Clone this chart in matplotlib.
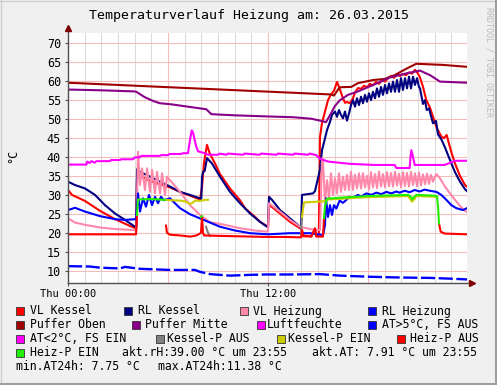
import matplotlib
matplotlib.use("Agg")
from matplotlib import pyplot as plt
from matplotlib.patches import Rectangle
from matplotlib.lines import Line2D

plt.rcParams['font.family'] = ['DejaVu Sans Mono']

NaN = float("nan")
W, H = 497, 385

# hours since Thu 00:00
vl_kessel_t = [0, 0.24, 1.02, 1.92, 2.82, 3.72, 4.08, 4.14, 4.4, 5.0,
               5.5, 6.12, 6.72, 7.32, 7.92, 8.04, 8.16, 8.34, 8.5, 8.82,
               9.12, 9.72, 10.32, 10.62, 11.22, 11.52, 12.0, 12.06, 12.24, 12.72,
               13.32, 13.92, 14.04, 14.1, 14.6, 14.82, 14.9, 15.05, 15.12, 15.24,
               15.42, 15.6, 15.78, 15.96, 16.14, 16.26, 16.38, 16.5, 16.62, 16.74,
               16.92, 17.1, 17.22, 17.4, 17.58, 17.76, 17.94, 18.12, 18.3, 18.48,
               18.66, 18.84, 19.02, 19.2, 19.38, 19.56, 19.74, 19.92, 20.1, 20.28,
               20.46, 20.64, 20.82, 21.0, 21.12, 21.3, 21.5, 21.72, 21.9, 22.14,
               22.42, 22.56, 22.72, 22.86, 23.02, 23.22, 23.52, 23.82, 23.94]
vl_kessel = [31.3, 30.0, 28.4, 25.8, 23.6, 21.8, 21.2, 34.5, 34.8, 33.6,
             32.8, 32.0, 30.8, 29.8, 28.8, 32.0, 38.5, 43.2, 41.0, 38.3,
             35.5, 31.7, 28.6, 26.5, 24.2, 22.9, 21.6, 27.3, 26.8, 25.1,
             22.9, 21.2, 20.8, 19.3, 19.1, 21.0, 19.2, 19.5, 45.3, 49.0,
             52.0, 55.0, 56.5, 57.5, 59.8, 58.5, 57.0, 55.5, 54.3, 54.5,
             54.2, 55.5, 57.0, 58.2, 58.0, 58.8, 58.4, 59.3, 58.9, 59.8,
             59.3, 60.3, 59.9, 60.8, 61.4, 60.9, 61.8, 61.4, 61.9, 61.6,
             62.3, 62.0, 63.0, 62.0, 61.0, 58.5, 55.0, 53.0, 50.6, 47.5,
             45.3, 45.0, 45.8, 43.5, 41.0, 38.3, 35.0, 32.6, 32.2]

rl_kessel_t = [0, 0.42, 1.02, 1.62, 2.22, 2.82, 3.42, 4.02, 4.1, 4.14,
               4.32, 4.92, 5.52, 6.12, 6.72, 7.32, 7.92, 8.0, 8.04, 8.1,
               8.2, 8.34, 8.64, 9.12, 9.72, 10.32, 10.92, 11.52, 11.94, 12.0,
               12.06, 12.24, 12.72, 13.32, 13.92, 13.98, 14.04, 14.7, 14.82, 14.95,
               15.12, 15.24, 15.42, 15.54, 15.72, 15.84, 16.02, 16.14, 16.26, 16.38,
               16.5, 16.62, 16.74, 16.86, 16.98, 17.1, 17.22, 17.34, 17.46, 17.58,
               17.7, 17.82, 17.94, 18.06, 18.18, 18.3, 18.42, 18.54, 18.66, 18.78,
               18.9, 19.02, 19.14, 19.26, 19.38, 19.5, 19.62, 19.74, 19.86, 19.98,
               20.1, 20.22, 20.34, 20.46, 20.58, 20.7, 20.82, 20.94, 21.06, 21.12,
               21.3, 21.42, 21.52, 21.66, 21.9, 22.08, 22.2, 22.42, 22.62, 22.92,
               23.22, 23.52, 23.82, 23.94]
rl_kessel = [33.5, 32.6, 31.7, 30.0, 27.3, 25.1, 23.4, 21.6, 21.5, 36.8,
             36.1, 34.8, 33.5, 32.2, 30.8, 30.0, 29.1, 29.0, 34.8, 36.0,
             36.3, 39.7, 38.3, 34.8, 30.8, 27.8, 25.1, 22.9, 21.6, 21.5,
             29.5, 28.7, 26.0, 23.8, 21.6, 21.4, 30.0, 30.4, 31.0, 33.5,
             36.6, 41.8, 44.9, 47.1, 49.3, 51.1, 52.0, 50.6, 52.4, 51.1,
             50.2, 52.0, 49.6, 51.5, 53.7, 55.0, 53.3, 55.5, 53.7, 55.9,
             54.2, 56.4, 54.6, 56.8, 55.0, 57.2, 55.5, 58.1, 55.9, 58.5,
             56.4, 59.0, 56.8, 59.4, 57.2, 59.9, 57.2, 60.3, 57.2, 60.8,
             57.7, 60.8, 58.1, 61.2, 58.1, 61.2, 59.0, 60.8, 58.5, 58.1,
             54.0, 55.0, 52.4, 52.8, 48.9, 49.5, 46.0, 44.5, 42.5, 39.2,
             36.0, 33.5, 31.5, 31.0]

vl_heizung_t = [0, 0.42, 1.02, 1.92, 2.82, 4.02, 4.1, 4.2, 4.32, 4.44,
                4.62, 4.74, 4.92, 5.04, 5.22, 5.34, 5.52, 5.64, 5.82, 5.94,
                6.12, 6.72, 7.32, 7.92, 8.52, 9.42, 10.32, 11.22, 11.94, 12.0,
                12.06, 12.72, 13.32, 13.92, 14.52, 15.12, 15.24, 15.3, 15.42, 15.54,
                15.66, 15.78, 15.9, 16.02, 16.14, 16.26, 16.38, 16.5, 16.62, 16.74,
                16.86, 16.98, 17.1, 17.22, 17.34, 17.46, 17.58, 17.7, 17.82, 17.94,
                18.06, 18.18, 18.3, 18.42, 18.54, 18.66, 18.78, 18.9, 19.02, 19.14,
                19.26, 19.38, 19.5, 19.62, 19.74, 19.86, 19.98, 20.1, 20.22, 20.34,
                20.46, 20.58, 20.7, 20.82, 20.94, 21.06, 21.18, 21.3, 21.42, 21.54,
                21.66, 21.78, 21.9, 22.1, 22.3, 22.62, 22.92, 23.22, 23.52, 23.82,
                23.94]
vl_heizung = [23.8, 22.7, 22.1, 21.4, 21.0, 20.7, 20.7, 41.4, 32.6, 37.0,
              31.3, 37.0, 30.8, 36.6, 30.4, 36.1, 30.4, 35.7, 30.0, 34.8,
              33.9, 30.8, 27.3, 24.7, 22.8, 22.1, 21.2, 20.6, 20.3, 20.3,
              27.8, 25.6, 23.4, 21.6, 21.0, 20.7, 39.7, 39.2, 27.8, 33.9,
              29.1, 35.7, 30.0, 34.4, 30.4, 35.7, 30.8, 34.8, 31.3, 35.3,
              31.3, 36.1, 31.3, 35.3, 31.7, 35.7, 31.7, 35.7, 32.0, 35.0,
              31.5, 36.0, 32.0, 35.5, 31.8, 36.2, 32.2, 35.5, 32.0, 36.0,
              32.3, 35.8, 32.2, 36.1, 32.5, 35.6, 32.0, 36.0, 32.4, 35.8,
              32.2, 36.1, 32.6, 35.7, 32.3, 35.9, 32.5, 35.4, 32.8, 35.6,
              32.9, 35.3, 33.5, 35.5, 34.5, 32.2, 30.4, 28.7, 27.1, 25.8,
              25.5]

rl_heizung_t = [0, 0.42, 1.02, 1.92, 2.82, 3.42, 4.08, 4.2, 4.32, 4.5,
                4.68, 4.86, 5.04, 5.22, 5.4, 5.58, 5.76, 6.12, 6.72, 7.32,
                7.92, 8.52, 9.12, 10.02, 10.92, 12.0, 13.32, 14.52, 15.3, 15.42,
                15.48, 15.6, 15.72, 15.84, 15.96, 16.1, 16.3, 16.5, 16.9, 17.1,
                17.4, 17.6, 17.9, 18.2, 18.5, 18.8, 19.1, 19.4, 19.7, 19.9,
                20.2, 20.5, 20.8, 21.1, 21.4, 21.7, 22.1, 22.4, 22.7, 23.0,
                23.3, 23.7, 23.94]
rl_heizung = [26.0, 26.6, 25.6, 24.4, 23.6, 23.4, 23.6, 30.4, 25.6, 29.1,
              26.9, 30.0, 27.3, 29.5, 27.8, 29.5, 28.6, 29.1, 26.5, 24.9,
              23.8, 22.7, 21.6, 20.6, 19.9, 19.6, 19.9, 19.9, 19.4, 22.0,
              29.1, 24.2, 27.3, 24.7, 27.3, 26.4, 28.5, 27.9, 29.5, 29.3,
              30.0, 29.6, 30.4, 30.0, 30.6, 30.2, 30.8, 30.4, 30.9, 30.6,
              31.1, 30.7, 31.3, 30.9, 31.4, 31.1, 30.8, 30.0, 28.7, 27.3,
              26.5, 26.0, 26.5]

puffer_oben_t = [0, 15.8, 15.95, 16.3, 17.0, 17.4, 18.3, 19.0, 19.6, 20.3, 20.9, 22.5, 23.94]
puffer_oben = [59.6, 56.5, 56.2, 58.4, 58.5, 59.5, 60.3, 60.6, 61.6, 63.3, 64.6, 64.3, 63.8]

puffer_mitte_t = [0, 2.0, 4.0, 4.1, 4.6, 5.1, 5.5, 6.2, 7.0, 8.3,
                  8.6, 10.0, 12.0, 13.5, 14.6, 15.12, 15.48, 15.78, 16.02, 16.32,
                  16.8, 17.34, 18.3, 19.32, 20.34, 21.12, 21.72, 22.32, 23.94]
puffer_mitte = [57.8, 57.6, 57.3, 57.2, 55.8, 54.8, 54.2, 53.9, 53.4, 52.6,
                51.3, 51.0, 50.7, 50.5, 50.1, 49.6, 49.2, 51.5, 53.5, 55.0,
                56.4, 57.2, 59.0, 61.0, 62.1, 62.8, 61.6, 59.9, 59.6]

luftfeuchte_t = [0, 1.1, 1.15, 1.3, 1.4, 1.6, 1.7, 2.5, 2.6, 3.1,
                 3.2, 3.9, 4.0, 4.3, 4.4, 5.5, 5.6, 6.0, 6.1, 6.8,
                 6.9, 7.2, 7.3, 7.42, 7.5, 7.6, 7.7, 7.8, 8.2, 8.4,
                 9.0, 9.1, 9.5, 9.6, 10.5, 10.6, 11.5, 11.6, 12.5, 12.6,
                 13.5, 13.6, 14.4, 14.5, 14.9, 15.1, 15.6, 16.9, 18.4, 19.6,
                 19.7, 20.5, 20.55, 20.6, 20.7, 20.8, 22.6, 23.0, 23.2, 23.94]
luftfeuchte = [38.0, 38.0, 38.8, 38.4, 38.9, 38.5, 38.9, 38.9, 39.2, 39.2,
               39.4, 39.4, 39.9, 39.9, 40.3, 40.3, 40.5, 40.5, 40.8, 40.8,
               41.0, 41.0, 44.0, 47.0, 46.5, 44.5, 42.7, 41.5, 41.0, 40.6,
               40.6, 40.9, 40.6, 40.9, 40.6, 40.9, 40.6, 40.9, 40.6, 40.9,
               40.6, 40.9, 40.6, 40.9, 40.5, 39.6, 38.8, 38.2, 37.9, 37.9,
               37.1, 37.1, 40.0, 41.8, 40.0, 37.9, 37.9, 38.6, 39.0, 39.0]

at_aus_t = [0, 1.32, 1.92, 3.12, 3.42, 4.32, 6.12, 7.62, 7.92, 8.52,
            9.72, 10.92, 11.82, 13.32, 15.12, 16.32, 18.12, 19.92, 21.72, 22.92, 23.94]
at_aus = [11.2, 11.1, 10.8, 10.6, 11.0, 10.5, 10.2, 10.2, 9.7, 9.1,
          8.7, 8.9, 9.0, 9.0, 9.1, 8.7, 8.4, 8.2, 8.1, 7.9, 7.7]

kessel_p_aus_t = [8.28, 8.4, 8.52, 8.52, 13.98, 14.04]
kessel_p_aus = [21.6, 20.0, 19.2, NaN, 19.8, 24.2]

kessel_p_ein_t = [5.82, 6.12, 6.72, 7.02, 7.32, 7.5, 7.62, 7.92, 8.22, 8.4,
                  8.4, 14.04, 14.16, 14.5, 15.3, 15.42, 15.6, 18.0, 20.4, 20.58,
                  20.64, 20.8, 20.9, 22.14]
kessel_p_ein = [28.7, 28.6, 28.5, 28.3, 27.6, 28.0, 28.5, 28.4, 28.7, 28.7,
                NaN, 24.2, 28.0, 28.1, 28.3, 28.5, 28.8, 29.4, 29.7, 28.6,
                28.2, 29.0, 29.7, 29.5]

heiz_p_aus_t = [0, 4.08, 4.14, 4.14, 5.88, 5.94, 6.12, 6.72, 7.32, 7.62,
                7.8, 7.98, 8.04, 8.1, 8.16, 9.0, 10.0, 11.0, 12.0, 13.0,
                13.98, 14.04, 14.1, 14.6, 14.82, 14.9, 15.3, 15.36, 15.36, 22.26,
                22.36, 22.6, 23.94]
heiz_p_aus = [19.6, 19.6, 24.7, NaN, 21.9, 20.0, 19.5, 19.3, 19.0, 19.2,
              19.5, 20.0, 24.2, 20.0, 19.3, 19.2, 19.1, 19.0, 18.9, 18.9,
              18.8, 20.7, 19.1, 19.0, 21.2, 19.0, 19.0, 23.9, NaN, 22.5,
              20.3, 19.8, 19.6]

heiz_p_ein_t = [4.14, 4.2, 5.0, 5.82, 5.82, 7.98, 8.04, 8.04, 15.36, 15.42,
                15.54, 16.5, 18.0, 20.4, 20.58, 20.64, 20.76, 20.9, 22.0, 22.14,
                22.2, 22.26]
heiz_p_ein = [24.7, 28.8, 28.9, 28.7, NaN, 24.2, 24.4, NaN, 23.9, 27.0,
              29.0, 29.3, 29.7, 30.0, 29.5, 28.8, 29.4, 30.0, 29.8, 29.6,
              27.0, 22.5]

y_ticks = list(range(10, 71, 5))
x_ticks = [0, 12]
x_tick_labels = ["Thu 00:00", "Thu 12:00"]

colors = {
    "VL Kessel": "#FF0000", "RL Kessel": "#000080", "VL Heizung": "#FF88AA",
    "RL Heizung": "#0000FF", "Puffer Oben": "#A00000", "Puffer Mitte": "#880088",
    "Luftfeuchte": "#FF00FF", "AT>5°C, FS AUS": "#0000FF", "AT<2°C, FS EIN": "#FF00FF",
    "Kessel-P AUS": "#808080", "Kessel-P EIN": "#CCCC00", "Heiz-P AUS": "#FF0000",
    "Heiz-P EIN": "#22EE00",
}

GRID = "#DCDCDC"
MGRID = "#F3BDBD"
AXIS = "#505050"
ARROW = "#7F0000"


def fx(x):
    return x / W


def fy(y):
    return 1 - y / H


fig = plt.figure(figsize=(W / 100, H / 100), dpi=100)
fig.patch.set_facecolor("#F0F0F0")
ax = fig.add_axes([fx(68), fy(283), 399 / W, 250 / H])
ax.set_facecolor("white")
ax.set_xlim(0, 23.94)
ax.set_ylim(6.755, 72.72)

for h in range(1, 24):
    ax.axvline(h, color=MGRID if h % 6 == 0 else GRID, lw=0.8, zorder=0)
for v in y_ticks:
    ax.axhline(v, color=MGRID, lw=0.8, zorder=0)

lw = 1.5
series = [
    (vl_kessel_t, vl_kessel, "VL Kessel"),
    (rl_kessel_t, rl_kessel, "RL Kessel"),
    (vl_heizung_t, vl_heizung, "VL Heizung"),
    (rl_heizung_t, rl_heizung, "RL Heizung"),
    (puffer_oben_t, puffer_oben, "Puffer Oben"),
    (puffer_mitte_t, puffer_mitte, "Puffer Mitte"),
    (luftfeuchte_t, luftfeuchte, "Luftfeuchte"),
]
for t, v, name in series:
    ax.plot(t, v, color=colors[name], lw=lw, zorder=3)
ax.plot(at_aus_t, at_aus, color=colors["AT>5°C, FS AUS"], lw=1.7,
        linestyle=(0, (6, 1.5)), zorder=3)
ax.plot(kessel_p_aus_t, kessel_p_aus, color=colors["Kessel-P AUS"], lw=lw, zorder=3)
ax.plot(kessel_p_ein_t, kessel_p_ein, color=colors["Kessel-P EIN"], lw=lw, zorder=3)
ax.plot(heiz_p_aus_t, heiz_p_aus, color=colors["Heiz-P AUS"], lw=lw, zorder=3)
ax.plot(heiz_p_ein_t, heiz_p_ein, color=colors["Heiz-P EIN"], lw=lw, zorder=3)

for s in ax.spines.values():
    s.set_visible(False)

# axes with arrows
ax.plot([0, 0], [6.755, 73.6], color=AXIS, lw=1, clip_on=False, zorder=4)
ax.plot([0], [74.0], marker="^", ms=4.5, color=ARROW, clip_on=False, zorder=5)
ax.plot([0, 24.1], [6.755, 6.755], color=AXIS, lw=1, clip_on=False, zorder=4)
ax.plot([24.25], [6.755], marker=">", ms=4.5, color=ARROW, clip_on=False, zorder=5)

ax.set_yticks(y_ticks)
ax.set_yticklabels([str(v) for v in y_ticks])
ax.set_xticks(x_ticks)
ax.set_xticklabels(x_tick_labels)
ax.tick_params(axis="y", length=2, color=AXIS, pad=3, labelsize=8.5)
ax.tick_params(axis="x", length=2, color=AXIS, pad=2.5, labelsize=7.5)

fig.text(fx(249), fy(16), "Temperaturverlauf Heizung am: 26.03.2015",
         ha="center", va="center", fontsize=9.5)
fig.text(fx(13), fy(156), "°C", rotation=90, ha="center", va="center", fontsize=8.5)
fig.text(fx(489), fy(7), "RRDTOOL / TOBI OETIKER", rotation=270,
         ha="center", va="top", fontsize=6, color="#BBBBBB")

legend_rows = [
    (311, [("VL Kessel", 16, 30), ("RL Kessel", 124, 138),
           ("VL Heizung", 240, 253), ("RL Heizung", 368, 382)]),
    (325, [("Puffer Oben", 16, 30), ("Puffer Mitte", 132, 145),
           ("Luftfeuchte", 257, 267), ("AT>5°C, FS AUS", 368, 382)]),
    (339, [("AT<2°C, FS EIN", 16, 30), ("Kessel-P AUS", 156, 167),
           ("Kessel-P EIN", 277, 288), ("Heiz-P AUS", 397, 410)]),
    (353, [("Heiz-P EIN", 16, 30)]),
]
for y, entries in legend_rows:
    for name, sx, tx in entries:
        fig.add_artist(Rectangle((fx(sx), fy(y + 4)), 8 / W, 8 / H,
                                 transform=fig.transFigure, facecolor=colors[name],
                                 edgecolor="#333333", lw=0.6))
        fig.text(fx(tx), fy(y), name, ha="left", va="center", fontsize=8.3)

fig.text(fx(122), fy(353), "akt.rH:39.00 °C um 23:55", ha="left", va="center", fontsize=8.3)
fig.text(fx(312), fy(353), "akt.AT: 7.91 °C um 23:55", ha="left", va="center", fontsize=8.3)
fig.text(fx(16), fy(367), "min.AT24h: 7.75 °C", ha="left", va="center", fontsize=8.3)
fig.text(fx(158), fy(367), "max.AT24h:11.38 °C", ha="left", va="center", fontsize=8.3)

# image frame shading
fig.add_artist(Line2D([0, 1], [fy(0.5), fy(0.5)], transform=fig.transFigure,
                      color="#CFCFCF", lw=1))
fig.add_artist(Line2D([fx(0.5), fx(0.5)], [0, 1], transform=fig.transFigure,
                      color="#CFCFCF", lw=1))
fig.add_artist(Line2D([0, 1], [fy(384), fy(384)], transform=fig.transFigure,
                      color="#9E9E9E", lw=1.5))
fig.add_artist(Line2D([fx(496), fx(496)], [0, 1], transform=fig.transFigure,
                      color="#9E9E9E", lw=1.5))

fig.savefig("out.png", dpi=100, facecolor=fig.get_facecolor())
plt.close(fig)
